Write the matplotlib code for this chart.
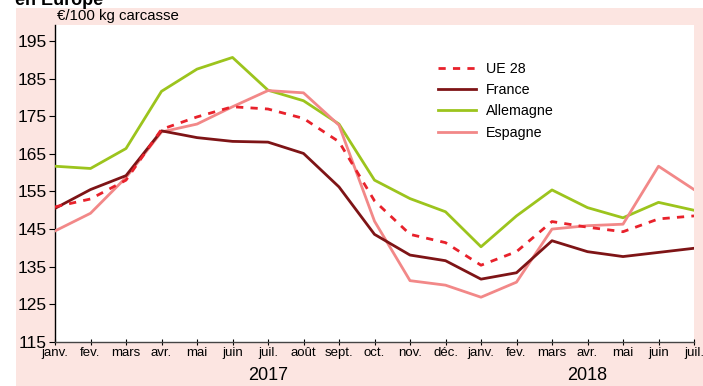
import matplotlib

matplotlib.use("Agg")
import matplotlib.pyplot as plt
from matplotlib.patches import Rectangle

# Monthly carcass prices, Jan 2017 - Jul 2018 (EUR / 100 kg)
months = ["janv.", "fev.", "mars", "avr.", "mai", "juin", "juil.", "août", "sept.",
          "oct.", "nov.", "déc.", "janv.", "fev.", "mars", "avr.", "mai", "juin", "juil."]
ue28 = [150.9, 153.0, 158.0, 171.5, 174.8, 177.5, 176.9, 174.4, 168.2,
        152.5, 143.6, 141.4, 135.4, 139.0, 147.0, 145.5, 144.3, 147.7, 148.5]
france = [150.5, 155.5, 159.2, 171.1, 169.3, 168.3, 168.1, 165.1, 156.2,
          143.6, 138.1, 136.6, 131.7, 133.4, 141.9, 139.0, 137.7, 138.8, 139.9]
allemagne = [161.7, 161.1, 166.4, 181.6, 187.5, 190.6, 181.9, 179.1, 172.9,
             158.0, 153.1, 149.6, 140.3, 148.5, 155.4, 150.7, 148.0, 152.1, 150.0]
espagne = [144.5, 149.2, 158.7, 170.8, 172.9, 177.5, 181.8, 181.2, 172.6,
           147.1, 131.3, 130.1, 126.9, 130.9, 145.0, 145.9, 146.3, 161.7, 155.5]
years = {"2017": 6, "2018": 15}
yticks = list(range(115, 200, 10))

W, H = 703, 386
fig = plt.figure(figsize=(W / 100, H / 100), dpi=100)
fig.patch.set_facecolor("white")
bg = "#fce5e1"
fig.add_artist(Rectangle((16 / W, 0), 1 - 16 / W, 1 - 8 / H,
                         transform=fig.transFigure, facecolor=bg, edgecolor="none", zorder=0))

ax = fig.add_axes([55 / W, 1 - 342 / H, (694 - 55) / W, (342 - 24.7) / H])
ax.set_facecolor("white")

narrow = ["Liberation Sans Narrow", "Liberation Sans", "DejaVu Sans"]
sans = ["Liberation Sans", "DejaVu Sans"]

x = range(len(months))
ax.plot(x, ue28, color="#e8212b", lw=2.0, dashes=(2.6, 2.6), label="UE 28", zorder=5)
ax.plot(x, france, color="#7e1416", lw=2.0, label="France", zorder=4)
ax.plot(x, allemagne, color="#9cc41d", lw=2.0, label="Allemagne", zorder=3)
ax.plot(x, espagne, color="#f28888", lw=2.0, label="Espagne", zorder=3)

ax.set_xlim(0, len(months) - 1)
ax.set_ylim(115, 199.3)
ax.set_yticks(yticks)
ax.set_yticklabels([str(v) for v in yticks], family=narrow, fontsize=12.5)
ax.set_xticks(list(x))
ax.set_xticklabels(months, family=narrow, fontsize=9.5)
ax.tick_params(axis="y", direction="out", length=4, width=0.8, pad=2)
ax.tick_params(axis="x", direction="inout", length=5, width=0.8, pad=1)

for side in ("top", "right"):
    ax.spines[side].set_visible(False)
ax.spines["left"].set_color("black")
ax.spines["bottom"].set_color("#444444")
for side in ("left", "bottom"):
    ax.spines[side].set_linewidth(1.0)

for label, pos in years.items():
    ax.text(pos, -0.105, label, transform=ax.get_xaxis_transform(),
            ha="center", va="center", family=narrow, fontsize=13)

ax.text(0.003, 1.0 + 8.7 / 317, "€/100 kg carcasse", transform=ax.transAxes,
        ha="left", va="center", family=sans, fontsize=10.8)
fig.text(15 / W, 1 - 5 / H, "en Europe", ha="left", va="baseline",
         family=sans, fontsize=13, fontweight="bold")

ax.legend(loc="upper left", bbox_to_anchor=(0.591, 0.9), frameon=False,
          prop={"family": sans, "size": 10.3}, handlelength=2.6,
          handletextpad=0.7, labelspacing=0.5, borderaxespad=0)

fig.savefig("out.png", dpi=100, facecolor=fig.get_facecolor())
plt.close(fig)
